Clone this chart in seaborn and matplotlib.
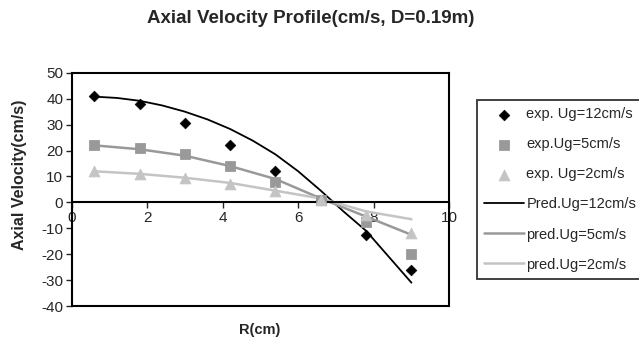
import matplotlib
matplotlib.use("Agg")
import matplotlib.pyplot as plt
import seaborn as sns

# radial positions of measurements (cm)
r_exp = [0.6, 1.8, 3.0, 4.2, 5.4, 6.6, 7.8, 9.0]
exp_12 = [41, 38, 30.5, 22, 12, 1, -12.5, -26]
exp_5 = [22, 21, 18.5, 14, 8, 1, -7.5, -20]
exp_2 = [12, 11, 9.5, 7, 4.5, 1, -5, -12]

# predicted curves
r_pred12 = [0.6, 1.2, 1.8, 2.4, 3.0, 3.6, 4.2, 4.8, 5.4, 6.0, 6.6, 7.2, 7.8, 8.4, 9.0]
pred_12 = [40.8, 40.3, 39.2, 37.4, 35.0, 32.0, 28.3, 23.8, 18.5, 12.0, 4.5, -3.5, -11.0, -21.0, -31.0]
r_pred = [0.6, 1.8, 3.0, 4.2, 5.4, 6.6, 7.8, 9.0]
pred_5 = [22, 20.5, 18, 14, 9, 1.5, -5.5, -12.5]
pred_2 = [12, 11, 9.5, 7.5, 4.5, 1.5, -3.5, -6.5]

sns.set_style("white")
plt.rcParams["font.family"] = ["Liberation Sans", "DejaVu Sans"]
plt.rcParams["axes.unicode_minus"] = False

fig = plt.figure(figsize=(6.39, 3.45), dpi=100)
ax = fig.add_axes([0.112, 0.113, 0.591, 0.676])

c_dark, c_mid, c_light = "black", "#999999", "#c4c4c4"

sns.lineplot(x=r_pred12, y=pred_12, ax=ax, color=c_dark, lw=1.3, label="Pred.Ug=12cm/s", zorder=2)
sns.lineplot(x=r_pred, y=pred_5, ax=ax, color=c_mid, lw=1.8, label="pred.Ug=5cm/s", zorder=2)
sns.lineplot(x=r_pred, y=pred_2, ax=ax, color=c_light, lw=1.8, label="pred.Ug=2cm/s", zorder=2)
sns.scatterplot(x=r_exp, y=exp_12, ax=ax, marker="D", color=c_dark, s=30, edgecolor=c_dark,
                label="exp. Ug=12cm/s", zorder=3)
sns.scatterplot(x=r_exp, y=exp_5, ax=ax, marker="s", color=c_mid, s=50, edgecolor=c_mid,
                label="exp.Ug=5cm/s", zorder=3)
sns.scatterplot(x=r_exp, y=exp_2, ax=ax, marker="^", color=c_light, s=60, edgecolor=c_light,
                label="exp. Ug=2cm/s", zorder=3)

ax.set_xlim(0, 10)
ax.set_ylim(-40, 50)
ax.set_yticks(range(-40, 51, 10))
ax.set_xticks(range(0, 11, 2))

for s in ["left", "top", "right", "bottom"]:
    ax.spines[s].set_color("black")
    ax.spines[s].set_linewidth(1.5)
ax.spines["bottom"].set_position(("data", 0))
ax.axhline(-40, color="black", lw=1.5, clip_on=False, zorder=5)

ax.tick_params(axis="y", left=True, length=4, width=1, labelsize=11, pad=2)
ax.tick_params(axis="x", bottom=True, direction="out", length=4, width=1, labelsize=11, pad=2)

ax.set_xlabel("")
ax.set_ylabel("")
fig.text(0.031, 0.493, "Axial Velocity(cm/s)", rotation=90, ha="center", va="center",
         fontsize=11.5, fontweight="bold")
fig.text(0.407, 0.043, "R(cm)", ha="center", va="center", fontsize=10.5, fontweight="bold")
fig.text(0.486, 0.945, "Axial Velocity Profile(cm/s, D=0.19m)", ha="center", va="center",
         fontsize=13.5, fontweight="bold")

handles, labels = ax.get_legend_handles_labels()
order = [3, 4, 5, 0, 1, 2]
leg = ax.legend([handles[i] for i in order], [labels[i] for i in order],
                loc="upper left", bbox_to_anchor=(0.746, 0.71), bbox_transform=fig.transFigure,
                fontsize=10.5, frameon=True, fancybox=False, labelspacing=1.1,
                handlelength=2.75, handletextpad=0.15, borderpad=0.5, borderaxespad=0)
leg.get_frame().set_edgecolor("black")
leg.get_frame().set_linewidth(1.3)

fig.savefig("out.png", dpi=100)
